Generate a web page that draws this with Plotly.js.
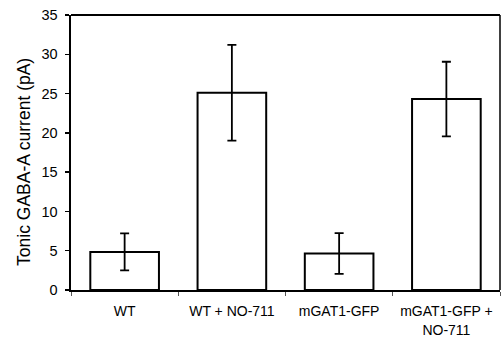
<!DOCTYPE html>
<html>
<head>
<meta charset="utf-8">
<script src="https://cdn.plot.ly/plotly-3.0.1.min.js"></script>
<style>html,body{margin:0;padding:0;background:#fff;}#chart{width:502px;height:337px;}</style>
</head>
<body>
<div id="chart"></div>
<script>
const categories = ["WT", "WT + NO-711", "mGAT1-GFP", "mGAT1-GFP +<br>NO-711"];
const meanCurrent = [4.85, 25.1, 4.65, 24.3];
const errCurrent = [2.35, 6.1, 2.6, 4.75];
const yTickValues = [0, 5, 10, 15, 20, 25, 30, 35];
const yTitle = "Tonic GABA-A current (pA)";

const trace = {
  type: "bar",
  x: categories,
  y: meanCurrent,
  marker: {color: "#ffffff", line: {color: "#000000", width: 2}},
  error_y: {type: "data", array: errCurrent, visible: true, color: "#000000", thickness: 1.8, width: 4.5},
  hoverinfo: "none"
};

const layout = {
  width: 502, height: 337,
  margin: {l: 71, r: 2, t: 15, b: 47},
  paper_bgcolor: "#ffffff", plot_bgcolor: "#ffffff",
  bargap: 0.36,
  showlegend: false,
  font: {family: "Liberation Sans, Arial, sans-serif", color: "#000000"},
  xaxis: {
    type: "category",
    showline: true, linecolor: "#000000", linewidth: 1.5,
    ticks: "outside", tickson: "boundaries", ticklen: 4, tickwidth: 1, tickcolor: "#555555",
    tickfont: {size: 14},
    ticklabelstandoff: 8,
    showgrid: false, zeroline: false, automargin: false
  },
  yaxis: {
    range: [0, 35],
    tickvals: yTickValues,
    showline: true, linecolor: "#000000", linewidth: 2.5,
    ticks: "outside", ticklen: 4, tickwidth: 1.5, tickcolor: "#000000",
    tickfont: {size: 14.5},
    ticklabelstandoff: 4,
    showgrid: false, zeroline: false, automargin: false
  },
  annotations: [
    {text: yTitle, textangle: -90, xref: "paper", yref: "paper", x: -0.11, y: 0.465,
     xanchor: "center", yanchor: "middle", showarrow: false, font: {size: 17.5}}
  ],
  shapes: [
    {type: "line", xref: "paper", yref: "paper", x0: 0, x1: 1, y0: 1, y1: 1, line: {color: "#000000", width: 2}},
    {type: "line", xref: "paper", yref: "paper", x0: 1, x1: 1, y0: 0, y1: 1, line: {color: "#000000", width: 1.5}}
  ]
};

Plotly.newPlot("chart", [trace], layout, {staticPlot: true, displayModeBar: false});
</script>
</body>
</html>
